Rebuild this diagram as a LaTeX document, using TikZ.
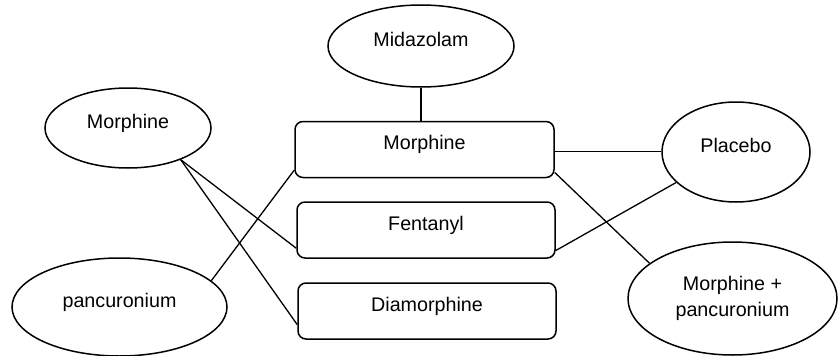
\documentclass[tikz,border=0pt]{standalone}
\usepackage{fontspec}
\setmainfont{Liberation Sans}
\usetikzlibrary{shapes.geometric}

\tikzset{
  oval/.style={ellipse, draw, line width=1.5pt, inner sep=0pt,
               text height=10pt, text depth=10pt},
  drug/.style={rectangle, draw, line width=1.5pt, rounded corners=8pt,
               inner sep=0pt, minimum height=56pt,
               text height=10pt, text depth=10pt},
  link/.style={line width=1.3pt},
}

\begin{document}
\begin{tikzpicture}[x=1pt, y=-1pt, font=\fontsize{19.7}{26}\selectfont]
  \useasboundingbox (0,0) rectangle (838,356);

  % treatment boxes in the middle column
  \node[drug, minimum width=259pt] (mbox) at (424.5,149.5) {Morphine};
  \node[drug, minimum width=258pt] (fbox) at (426,230) {Fentanyl};
  \node[drug, minimum width=258pt] (dbox) at (427,311) {Diamorphine};

  % comparators around them
  \node[oval, minimum width=186pt, minimum height=82pt] (mid) at (421,46) {Midazolam};
  \node[oval, minimum width=166pt, minimum height=80pt] (morl) at (128,128) {Morphine};
  \node[oval, minimum width=215pt, minimum height=98pt] (pan) at (119.5,307) {pancuronium};
  \node[oval, minimum width=148pt, minimum height=100pt] (plac) at (736,152) {Placebo};
  \node[ellipse, draw, line width=1.5pt, inner sep=0pt, align=center,
        minimum width=209pt, minimum height=113pt] (mpan) at (732.5,298.5)
        {Morphine +\\pancuronium};

  % links
  \draw[link] (mid.south) -- (mid.south |- mbox.north);
  \draw[link] (morl.-31.6) -- (fbox.188);
  \draw[link] (morl.-31.6) -- (dbox.186);
  \draw[link] (pan.16.1) -- (mbox.189.7);
  \draw[link] (mbox.-1.8) -- (mbox.-1.8 -| plac.west);
  \draw[link] (mbox.-10) -- (mpan.157);
  \draw[link] (fbox.-9.7) -- (plac.207.3);
\end{tikzpicture}
\end{document}
